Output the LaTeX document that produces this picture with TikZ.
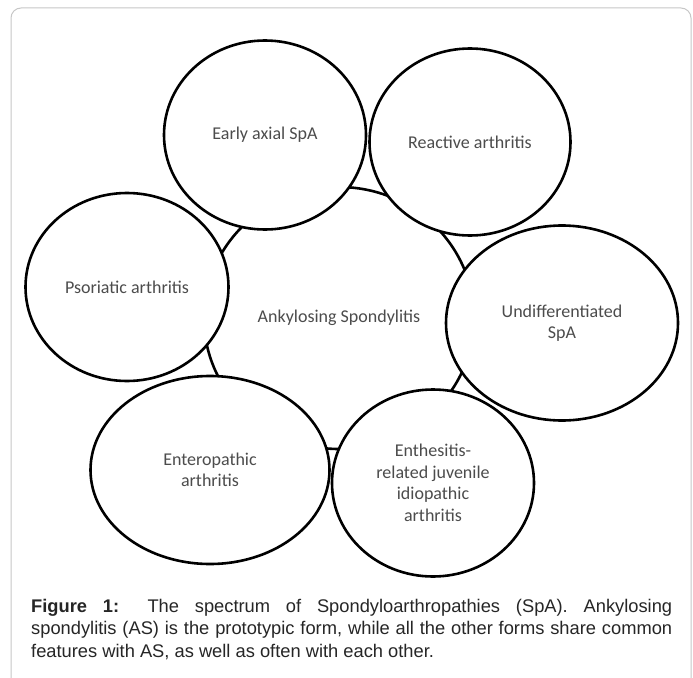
\documentclass[tikz,border=0pt]{standalone}
\usepackage{fontspec}
\setmainfont{Carlito}
\newfontfamily\capfont{Liberation Sans}
\usetikzlibrary{shapes}
\tikzstyle{bubble}=[ellipse,draw=black,fill=white,line width=2.6pt,inner sep=2pt,text=black!70,font=\fontsize{18}{21.5}\selectfont,align=center]

\begin{document}
\begin{tikzpicture}[x=1pt,y=-1pt]
    \path[use as bounding box,fill=white] (0,0) rectangle (693,677);
    \draw[black!22,line width=1pt,rounded corners=10pt] (11,8) rectangle (691,720);
    % centre form first, the others lie over it
    \node[bubble,minimum width=270pt,minimum height=262pt] (AS) at (339,318) {Ankylosing Spondylitis};
    \node[bubble,minimum width=202pt,minimum height=189pt] (EA) at (265,135) {Early axial SpA};
    \node[bubble,minimum width=201pt,minimum height=187pt] (RA) at (470,142) {Reactive arthritis};
    \node[bubble,minimum width=203pt,minimum height=188pt] (PA) at (127,287) {Psoriatic arthritis};
    \node[bubble,minimum width=202pt,minimum height=187pt] (ER) at (433,483) {Enthesitis-\\related juvenile\\idiopathic\\arthritis};
    \node[bubble,minimum width=232pt,minimum height=195pt] (US) at (562,323) {Undifferentiated\\SpA};
    \node[bubble,minimum width=239pt,minimum height=188pt] (EN) at (210,470) {Enteropathic\\arthritis};
    \node[anchor=north west,inner sep=0pt,text width=641pt,align=justify,text=black!85,
          font=\capfont\fontsize{18.3}{22.5}\selectfont] (cap) at (31,599)
      {\hyphenpenalty=10000\tolerance=9999\textbf{Figure 1:} The spectrum of Spondyloarthropathies (SpA). Ankylosing\linebreak spondylitis (AS) is the prototypic form, while all the other forms share common features with AS, as well as often with each other.};
\end{tikzpicture}
\end{document}
